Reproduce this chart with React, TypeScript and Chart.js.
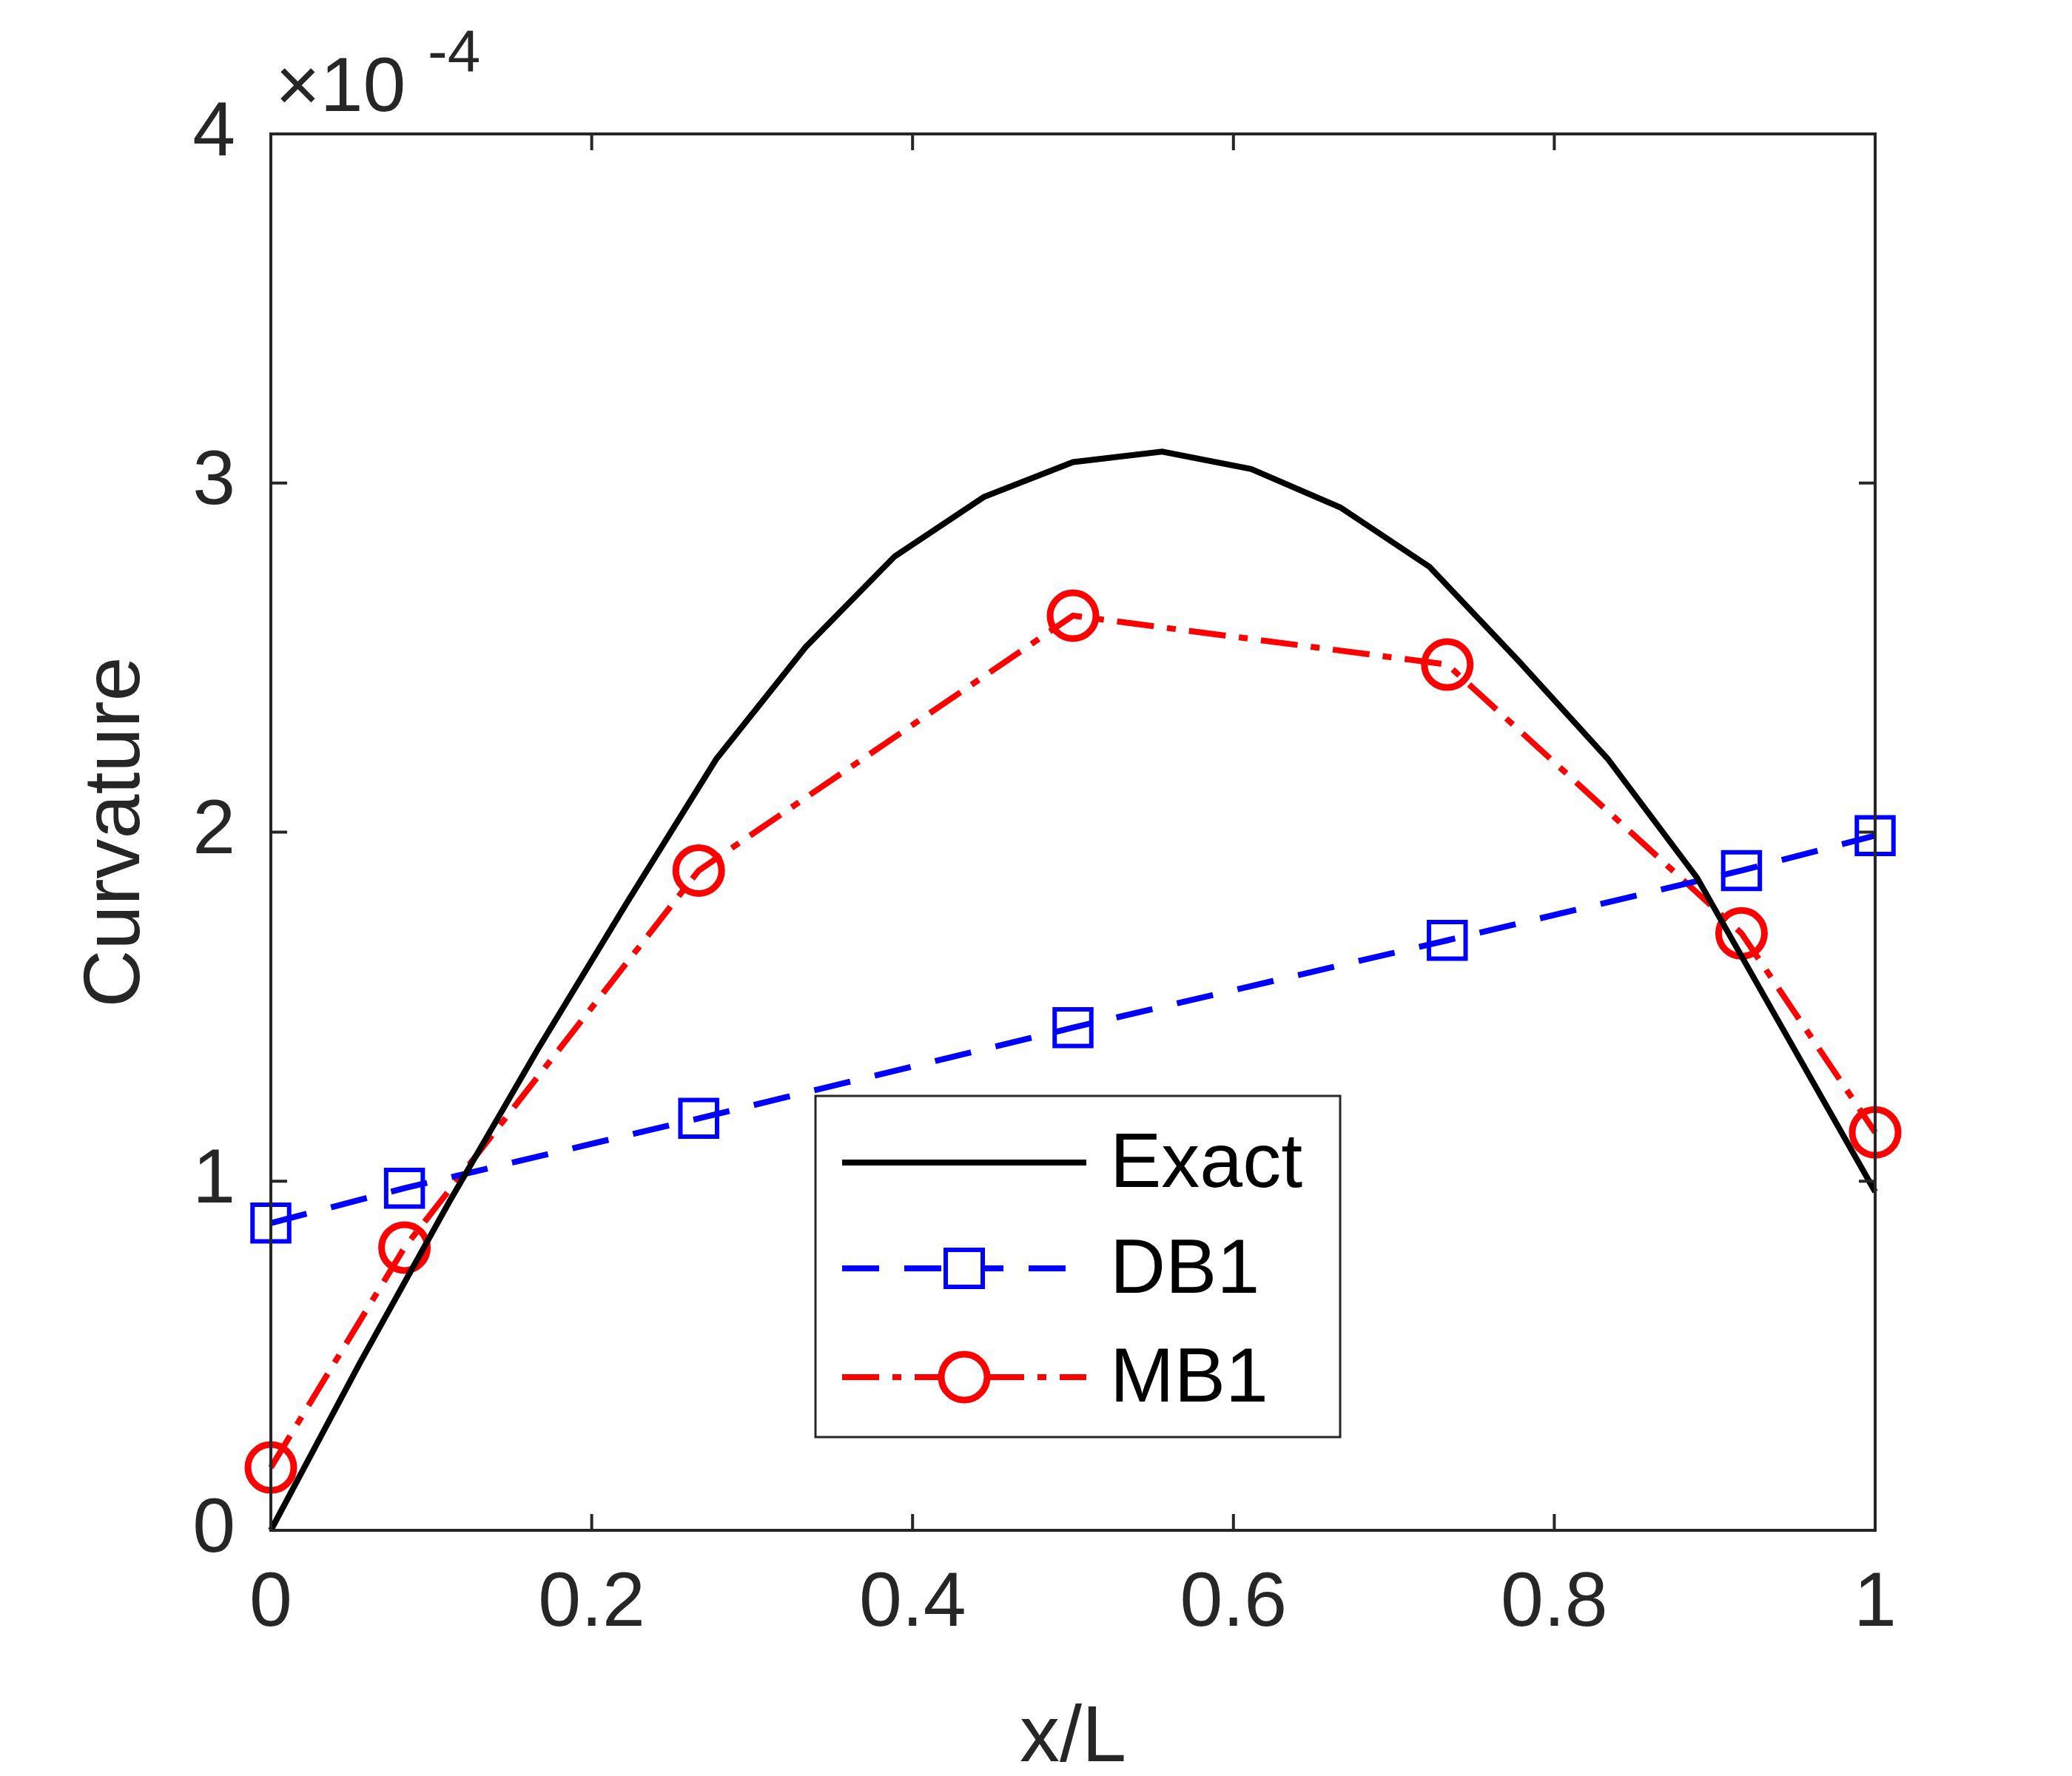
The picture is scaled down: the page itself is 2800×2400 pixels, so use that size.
import React, { useEffect, useRef } from 'react';
import { Chart, registerables } from 'chart.js';

Chart.register(...registerables);

const exactX = [0, 1, 2, 3, 4, 5, 6, 7, 8, 9, 10, 11, 12, 13, 14, 15, 16, 17, 18].map(k => k / 18);
const exactY = [0, 0.48, 0.94, 1.38, 1.8, 2.21, 2.53, 2.79, 2.96, 3.06, 3.09, 3.04, 2.93, 2.76, 2.49, 2.21, 1.87, 1.42, 0.97];
const nodeX = [0, 0.0833, 0.2667, 0.5, 0.7333, 0.9167, 1];
const db1Y = [0.88, 0.98, 1.18, 1.44, 1.69, 1.89, 1.99];
const mb1Y = [0.18, 0.81, 1.89, 2.62, 2.48, 1.71, 1.14];
const xTicks = [0, 0.2, 0.4, 0.6, 0.8, 1];
const yTicks = [0, 1, 2, 3, 4];

const FONT = 'Liberation Sans, Arial, sans-serif';
const INK = '#262626';
const DB_DASH = [50, 34];
const MB_DASH = [50, 18, 12, 18];

const frame = {
  id: 'frame',
  afterDraw(chart: any) {
    const { ctx, chartArea: a, scales } = chart;
    ctx.save();
    ctx.strokeStyle = INK;
    ctx.lineWidth = 4;
    ctx.strokeRect(a.left, a.top, a.right - a.left, a.bottom - a.top);
    const t = 22;
    ctx.beginPath();
    xTicks.forEach(v => {
      const px = scales.x.getPixelForValue(v);
      ctx.moveTo(px, a.bottom); ctx.lineTo(px, a.bottom - t);
      ctx.moveTo(px, a.top); ctx.lineTo(px, a.top + t);
    });
    yTicks.forEach(v => {
      const py = scales.y.getPixelForValue(v);
      ctx.moveTo(a.left, py); ctx.lineTo(a.left + t, py);
      ctx.moveTo(a.right, py); ctx.lineTo(a.right - t, py);
    });
    ctx.stroke();

    // titles
    ctx.fillStyle = INK;
    ctx.font = `108px ${FONT}`;
    ctx.textAlign = 'center';
    ctx.textBaseline = 'middle';
    ctx.fillText('x/L', (a.left + a.right) / 2, 2350);
    ctx.save();
    ctx.translate(158, (a.top + a.bottom) / 2);
    ctx.rotate(-Math.PI / 2);
    ctx.fillText('Curvature', 0, 0);
    ctx.restore();
    ctx.textAlign = 'left';
    ctx.textBaseline = 'alphabetic';
    ctx.font = `104px ${FONT}`;
    ctx.fillText('\u00d710', 372, 150);
    ctx.font = `80px ${FONT}`;
    ctx.fillText('-4', 578, 96);

    // legend
    const bx = 1102, by = 1481, bw = 709, bh = 461;
    ctx.fillStyle = '#fff';
    ctx.fillRect(bx, by, bw, bh);
    ctx.lineWidth = 3;
    ctx.strokeStyle = INK;
    ctx.strokeRect(bx, by, bw, bh);
    const rows = [
      { label: 'Exact', color: '#000', dash: [] as number[], marker: '', y: 1571 },
      { label: 'DB1', color: '#0000ff', dash: DB_DASH, marker: 'rect', y: 1714 },
      { label: 'MB1', color: '#ff0000', dash: MB_DASH, marker: 'circle', y: 1861 },
    ];
    rows.forEach(r => {
      ctx.strokeStyle = r.color;
      ctx.lineWidth = 8;
      ctx.setLineDash(r.dash);
      ctx.beginPath();
      ctx.moveTo(1138, r.y); ctx.lineTo(1468, r.y);
      ctx.stroke();
      ctx.setLineDash([]);
      ctx.lineWidth = r.marker === 'circle' ? 9 : 6;
      if (r.marker === 'rect') {
        ctx.fillStyle = '#fff';
        ctx.fillRect(1278, r.y - 25, 50, 50);
        ctx.strokeRect(1278, r.y - 25, 50, 50);
      } else if (r.marker === 'circle') {
        ctx.fillStyle = '#fff';
        ctx.beginPath(); ctx.arc(1303, r.y, 31, 0, Math.PI * 2); ctx.fill(); ctx.stroke();
      }
      ctx.fillStyle = '#000';
      ctx.font = `104px ${FONT}`;
      ctx.textBaseline = 'middle';
      ctx.fillText(r.label, 1500, r.y + 4);
    });
    ctx.restore();
  },
};

export default function App() {
  const ref = useRef<HTMLCanvasElement>(null);
  useEffect(() => {
    document.body.style.margin = '0';
    if (!ref.current) return;
    const chart = new Chart(ref.current, {
      type: 'scatter',
      data: {
        datasets: [
          {
            label: 'Exact',
            data: exactX.map((x, i) => ({ x, y: exactY[i] })),
            showLine: true, borderColor: '#000', borderWidth: 8, pointRadius: 0, clip: false,
          },
          {
            label: 'DB1',
            data: nodeX.map((x, i) => ({ x, y: db1Y[i] })),
            showLine: true, borderColor: '#0000ff', borderWidth: 8, borderDash: DB_DASH,
            pointStyle: 'rect', pointRadius: 35, pointBorderWidth: 6, clip: false,
            pointBackgroundColor: 'rgba(0,0,0,0)', pointBorderColor: '#0000ff',
          },
          {
            label: 'MB1',
            data: nodeX.map((x, i) => ({ x, y: mb1Y[i] })),
            showLine: true, borderColor: '#ff0000', borderWidth: 8, borderDash: MB_DASH,
            pointStyle: 'circle', pointRadius: 31, pointBorderWidth: 9, clip: false,
            pointBackgroundColor: 'rgba(0,0,0,0)', pointBorderColor: '#ff0000',
          },
        ],
      },
      options: {
        animation: false,
        responsive: false,
        devicePixelRatio: 1,
        layout: { padding: { left: 0, top: 181, right: 266, bottom: 0 } },
        plugins: { legend: { display: false }, tooltip: { enabled: false } },
        scales: {
          x: {
            type: 'linear', min: 0, max: 1,
            grid: { display: false }, border: { display: false },
            afterBuildTicks: (s: any) => { s.ticks = xTicks.map(v => ({ value: v })); },
            afterFit: (s: any) => { s.height = 332; },
            ticks: { color: INK, font: { size: 104, family: FONT }, padding: 30, maxRotation: 0, callback: (v: any) => String(v) },
          },
          y: {
            type: 'linear', min: 0, max: 4,
            grid: { display: false }, border: { display: false },
            afterBuildTicks: (s: any) => { s.ticks = yTicks.map(v => ({ value: v })); },
            afterFit: (s: any) => { s.width = 366; },
            ticks: { color: INK, font: { size: 104, family: FONT }, padding: 40, callback: (v: any) => String(v) },
          },
        },
      },
      plugins: [frame],
    });
    return () => chart.destroy();
  }, []);
  return <canvas ref={ref} width={2800} height={2400} style={{ display: 'block', width: 2800, height: 2400 }} />;
}
